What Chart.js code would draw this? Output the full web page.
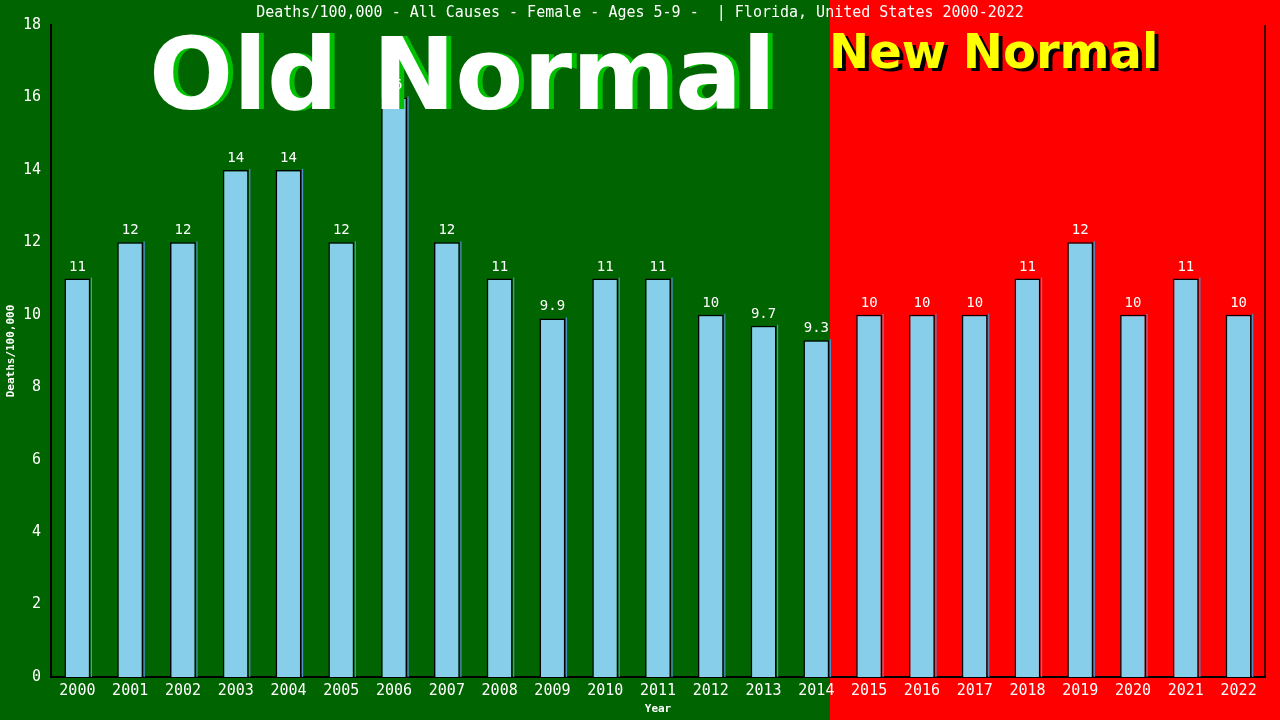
<!DOCTYPE html>
<html>
<head>
<meta charset="utf-8">
<script src="https://cdn.jsdelivr.net/npm/chart.js@4/dist/chart.umd.min.js"></script>
<style>
  html, body { margin: 0; padding: 0; background: #006400; }
  #wrap { width: 1280px; height: 720px; }
</style>
</head>
<body>
<div id="wrap"><canvas id="deathsChart" width="1280" height="720"></canvas></div>
<script>
// Chart data
const years = ['2000','2001','2002','2003','2004','2005','2006','2007','2008','2009','2010','2011',
               '2012','2013','2014','2015','2016','2017','2018','2019','2020','2021','2022'];
const deathRates = [11, 12, 12, 14, 14, 12, 16, 12, 11, 9.9, 11, 11, 10, 9.7, 9.3, 10, 10, 10, 11, 12, 10, 11, 10];
const yTicks = [0, 2, 4, 6, 8, 10, 12, 14, 16, 18];
const lastOldIndex = 14; // 2014 is the last "old normal" year

const chartTitle = 'Deaths/100,000 - All Causes - Female - Ages 5-9 -  | Florida, United States 2000-2022';
const monoFont = "'DejaVu Sans Mono', 'Liberation Mono', monospace";

// Green / red split background, title and the two big captions
const backdropPlugin = {
    id: 'backdrop',
    beforeDraw(chart) {
        const ctx = chart.ctx;
        const bar = chart.getDatasetMeta(0).data[lastOldIndex];
        const split = Math.round(bar.x + bar.width / 2 + 1);
        ctx.save();
        ctx.fillStyle = '#006400';
        ctx.fillRect(0, 0, split, chart.height);
        ctx.fillStyle = '#ff0000';
        ctx.fillRect(split, 0, chart.width - split, chart.height);

        ctx.fillStyle = '#ffffff';
        ctx.font = '15px ' + monoFont;
        ctx.textAlign = 'center';
        ctx.textBaseline = 'middle';
        ctx.fillText(chartTitle, 640, 13);
        ctx.restore();
    },
    afterDatasetsDraw(chart) {
        const ctx = chart.ctx;
        const meta = chart.getDatasetMeta(0);
        ctx.save();
        // thin blue shade on the right side of each bar
        meta.data.forEach(bar => {
            ctx.fillStyle = '#4f8fc8';
            ctx.fillRect(bar.x + bar.width / 2 + 0.5, bar.y - 1, 1.2, bar.base - bar.y + 1);
        });
        // plot border on the right
        const area = chart.chartArea;
        ctx.strokeStyle = '#000000';
        ctx.lineWidth = 1.5;
        ctx.beginPath();
        ctx.moveTo(area.right, area.top);
        ctx.lineTo(area.right, area.bottom);
        ctx.stroke();
        ctx.restore();
    },
    afterDraw(chart) {
        const ctx = chart.ctx;
        const meta = chart.getDatasetMeta(0);
        ctx.save();
        ctx.textAlign = 'left';
        ctx.textBaseline = 'alphabetic';

        ctx.font = "bold 99px 'DejaVu Sans', Verdana, sans-serif";
        ctx.fillStyle = '#00c000';
        ctx.fillText('Old Normal', 154, 109);
        ctx.fillStyle = '#ffffff';
        ctx.fillText('Old Normal', 149, 109);

        ctx.font = "bold 48px 'DejaVu Sans', Verdana, sans-serif";
        ctx.fillStyle = '#000000';
        ctx.fillText('New Normal', 833, 71);
        ctx.fillStyle = '#ffff00';
        ctx.fillText('New Normal', 829, 68);

        // value labels
        ctx.fillStyle = '#ffffff';
        ctx.font = '14px ' + monoFont;
        ctx.textAlign = 'center';
        meta.data.forEach((bar, i) => {
            ctx.fillText(String(deathRates[i]), bar.x, bar.y - 8);
        });
        ctx.restore();
    }
};

const ctx = document.getElementById('deathsChart').getContext('2d');
new Chart(ctx, {
    type: 'bar',
    data: {
        labels: years,
        datasets: [{
            label: 'Deaths/100,000',
            data: deathRates,
            backgroundColor: '#87ceeb',
            borderColor: '#000000',
            borderWidth: 1.5,
            borderSkipped: 'bottom',
            barPercentage: 0.49,
            categoryPercentage: 1.0
        }]
    },
    options: {
        responsive: false,
        animation: false,
        devicePixelRatio: 1,
        layout: { padding: { left: 0, right: 15, top: 25, bottom: 0 } },
        plugins: {
            legend: { display: false },
            title: { display: false },
            tooltip: { enabled: false }
        },
        scales: {
            x: {
                grid: { display: false, drawTicks: false },
                border: { color: '#000000', width: 2 },
                ticks: {
                    color: '#ffffff',
                    font: { family: monoFont, size: 15 },
                    padding: 5,
                    maxRotation: 0,
                    autoSkip: false
                },
                title: {
                    display: true,
                    text: 'Year',
                    color: '#ffffff',
                    font: { family: monoFont, size: 11, weight: 'bold' },
                    padding: { top: 0, bottom: 4 }
                },
                afterFit(scale) { scale.height = 43; }
            },
            y: {
                min: 0,
                max: 18,
                afterBuildTicks(scale) { scale.ticks = yTicks.map(v => ({ value: v })); },
                grid: { display: false, drawOnChartArea: false, drawTicks: true, tickLength: 6, tickColor: '#000000', tickWidth: 1.5 },
                border: { color: '#000000', width: 2 },
                ticks: {
                    color: '#ffffff',
                    font: { family: monoFont, size: 15 },
                    padding: 4
                },
                title: {
                    display: true,
                    text: 'Deaths/100,000',
                    color: '#ffffff',
                    font: { family: monoFont, size: 11, weight: 'bold' },
                    padding: { top: 5, bottom: 2 }
                },
                afterFit(scale) { scale.width = 51; }
            }
        }
    },
    plugins: [backdropPlugin]
});
</script>
</body>
</html>
